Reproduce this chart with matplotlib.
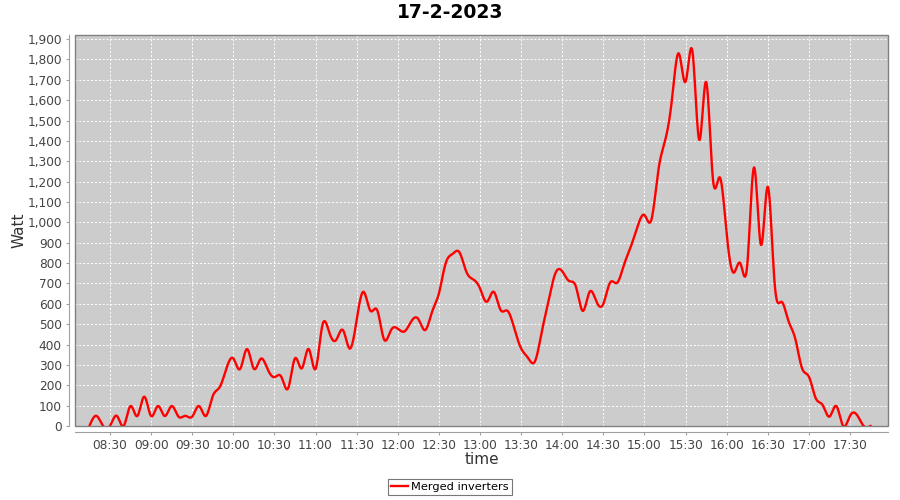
import numpy as np
import matplotlib
matplotlib.use("Agg")
import matplotlib.pyplot as plt
from matplotlib.ticker import FuncFormatter, MultipleLocator
from matplotlib.patches import Rectangle

title = "17-2-2023"
series_name = "Merged inverters"
first_sample_hour = 8.25   # 08:15
sample_minutes = 5

# power readings every 5 minutes, 08:15 .. 17:45
watt = [
    0, 50, 0, 0, 50, 0, 98, 49, 144,                         # 08:15-08:55
    49, 98, 49, 98, 46, 50, 46, 98, 49, 147, 190, 283,       # 09
    332, 280, 378, 281, 330, 280, 240, 242, 185, 332, 283, 378,  # 10
    280, 495, 460, 422, 471, 380, 520, 659, 566, 569, 425, 470,  # 11
    478, 465, 515, 525, 471, 560, 650, 800, 845, 853, 758, 720,  # 12
    676, 610, 659, 570, 566, 480, 381, 335, 316, 460, 614, 750,  # 13
    760, 712, 684, 565, 659, 610, 600, 705, 703, 790, 880, 980,  # 14
    1036, 1011, 1250, 1400, 1600, 1830, 1690, 1840, 1404, 1690, 1210, 1221,  # 15
    943, 753, 799, 790, 1270, 889, 1175, 700, 610, 517, 430, 283,  # 16
    242, 136, 103, 46, 98, 0, 50, 55, 0, 0,                  # 17:00-17:45
]

tick_hours = [8.5, 9, 9.5, 10, 10.5, 11, 11.5, 12, 12.5, 13, 13.5, 14,
              14.5, 15, 15.5, 16, 16.5, 17, 17.5]
tick_labels = ["08:30", "09:00", "09:30", "10:00", "10:30", "11:00", "11:30",
               "12:00", "12:30", "13:00", "13:30", "14:00", "14:30", "15:00",
               "15:30", "16:00", "16:30", "17:00", "17:30"]


def natural_spline(x, y, per_seg=12):
    # plain natural cubic spline, like the renderer of the original chart
    n = len(x)
    h = np.diff(x)
    A = np.zeros((n, n))
    b = np.zeros(n)
    A[0, 0] = A[-1, -1] = 1
    for i in range(1, n - 1):
        A[i, i - 1] = h[i - 1]
        A[i, i] = 2 * (h[i - 1] + h[i])
        A[i, i + 1] = h[i]
        b[i] = 6 * ((y[i + 1] - y[i]) / h[i] - (y[i] - y[i - 1]) / h[i - 1])
    m = np.linalg.solve(A, b)
    xs, ys = [], []
    for i in range(n - 1):
        t = np.linspace(0, h[i], per_seg, endpoint=False)
        c1 = (y[i + 1] - y[i]) / h[i] - h[i] * (2 * m[i] + m[i + 1]) / 6
        c2 = m[i] / 2
        c3 = (m[i + 1] - m[i]) / (6 * h[i])
        xs.append(x[i] + t)
        ys.append(y[i] + c1 * t + c2 * t ** 2 + c3 * t ** 3)
    xs.append([x[-1]])
    ys.append([y[-1]])
    return np.concatenate(xs), np.concatenate(ys)


hours = first_sample_hour + np.arange(len(watt)) * sample_minutes / 60
sx, sy = natural_spline(hours, np.array(watt, dtype=float))

plt.rcParams['font.family'] = ['DejaVu Sans']

fig = plt.figure(figsize=(9, 5), dpi=100)
ax = fig.add_axes([75 / 900, 1 - 426 / 500, 813 / 900, 391 / 500])
ax.set_facecolor("#cccccc")

ax.plot(sx, sy, color="#ff0000", linewidth=1.7, label=series_name)

ax.set_xlim(8 + 4.5 / 60, 17 + 57.7 / 60)
ax.set_ylim(0, 1920)
ax.set_xticks(tick_hours)
ax.set_xticklabels(tick_labels)
ax.yaxis.set_major_locator(MultipleLocator(100))
ax.yaxis.set_major_formatter(FuncFormatter(lambda v, p: f"{v:,.0f}"))

ax.grid(True, color="white", linestyle=(0, (2, 2)), linewidth=0.7)
ax.set_axisbelow(True)

for side in ["top", "right"]:
    ax.spines[side].set_visible(False)
for side in ["left", "bottom"]:
    ax.spines[side].set_position(("outward", 4))
    ax.spines[side].set_color("#a0a0a0")
    ax.spines[side].set_linewidth(0.8)
ax.add_patch(Rectangle((0, 0), 1, 1, transform=ax.transAxes, fill=False,
                       edgecolor="#808080", linewidth=1, clip_on=False, zorder=5))

ax.tick_params(axis="both", colors="#a0a0a0", labelcolor="#444444",
               labelsize=8.7, length=2, width=0.8)

fig.text(0.5, 1 - 13 / 500, title, ha="center", va="center",
         fontsize=13.5, fontweight="bold")
ax.set_xlabel("time", fontsize=11, color="#333333")
ax.set_ylabel("Watt", fontsize=11, color="#333333")
ax.xaxis.set_label_coords(0.5, (426 - 452) / 391)
ax.yaxis.set_label_coords((26 - 75) / 813, 0.5)

leg = fig.legend(loc="center", bbox_to_anchor=(0.5, 1 - 487 / 500),
                 fontsize=8.2, frameon=True, fancybox=False,
                 handlelength=1.5, handletextpad=0.3, borderpad=0.3)
leg.get_frame().set_edgecolor("#555555")
leg.get_frame().set_linewidth(0.8)

fig.savefig("out.png", dpi=100, facecolor="white")
